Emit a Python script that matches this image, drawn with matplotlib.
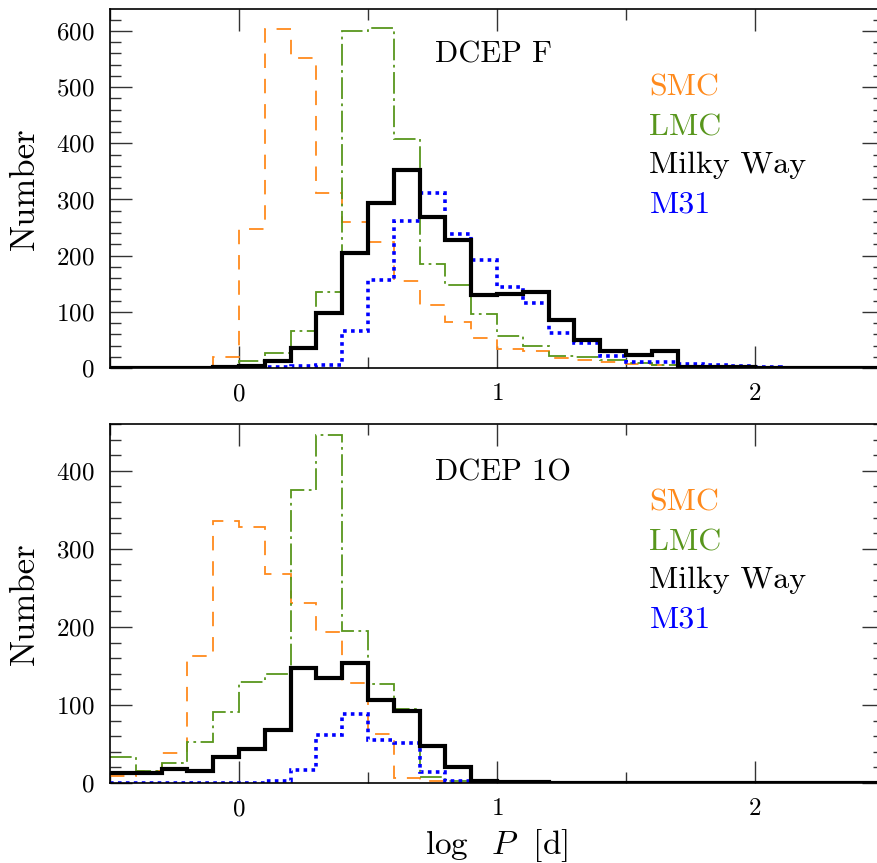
import numpy as np
import matplotlib
matplotlib.use("Agg")
import matplotlib.pyplot as plt
from matplotlib.ticker import MultipleLocator

plt.rcParams['font.family'] = ['cmr10', 'DejaVu Serif']
plt.rcParams['mathtext.fontset'] = 'cm'
plt.rcParams['axes.formatter.use_mathtext'] = True

# bin edges: log P from -0.5 to 2.5 in steps of 0.1
edges = np.round(np.arange(-0.5, 2.5001, 0.1), 2)

# ---- DCEP F (fundamental mode) counts per bin ----
smc_f = [0, 0, 0, 0, 20, 248, 603, 551, 311, 260, 225, 155, 112, 81, 53, 33, 30, 18,
         14, 11, 8, 5, 3, 2, 1, 1, 0, 0, 0, 0]
lmc_f = [0, 0, 0, 0, 3, 13, 26, 65, 136, 600, 606, 407, 186, 148, 96, 57, 39, 21,
         20, 15, 9, 5, 3, 2, 1, 0, 0, 0, 0, 0]
mw_f = [0, 0, 0, 0, 2, 4, 13, 36, 98, 204, 293, 352, 268, 227, 130, 131, 136, 85,
        50, 31, 23, 31, 2, 2, 1, 0, 0, 0, 0, 0]
m31_f = [0, 0, 0, 0, 0, 1, 2, 3, 5, 65, 157, 262, 311, 239, 193, 145, 116, 62,
         44, 21, 10, 10, 7, 5, 3, 1, 0, 0, 0, 0]

# ---- DCEP 1O (first overtone) counts per bin ----
smc_1o = [9, 15, 39, 163, 336, 328, 268, 231, 194, 128, 63, 7, 2, 0, 0, 0, 0, 0,
          0, 0, 0, 0, 0, 0, 0, 0, 0, 0, 0, 0]
lmc_1o = [33, 16, 26, 52, 91, 130, 140, 376, 446, 195, 127, 95, 8, 3, 0, 0, 0, 0,
          0, 0, 0, 0, 0, 0, 0, 0, 0, 0, 0, 0]
mw_1o = [13, 13, 18, 15, 33, 43, 68, 147, 134, 154, 106, 92, 48, 20, 2, 1, 1, 0,
         0, 0, 0, 0, 0, 0, 0, 0, 0, 0, 0, 0]
m31_1o = [0, 0, 0, 0, 0, 0, 3, 17, 62, 88, 55, 51, 14, 2, 0, 0, 0, 0,
          0, 0, 0, 0, 0, 0, 0, 0, 0, 0, 0, 0]

labels = ['SMC', 'LMC', 'Milky Way', 'M31']
titles = ['DCEP F', 'DCEP 1O']

c_smc = '#ff8a1c'
c_lmc = '#58961c'
c_mw = 'black'
c_m31 = '#0000ff'

styles = [
    dict(color=c_smc, lw=1.3, linestyle=(0, (8, 6))),
    dict(color=c_lmc, lw=1.3, linestyle=(0, (12, 2.5, 1.5, 2.5))),
    dict(color=c_mw, lw=3.0, linestyle='-'),
    dict(color=c_m31, lw=2.6, linestyle=(0, (1.0, 1.2))),
]

W, H = 877, 863
fig = plt.figure(figsize=(W / 100, H / 100), dpi=100)

ax_top = fig.add_axes([110 / W, (H - 368) / H, (884 - 110) / W, 359 / H])
ax_bot = fig.add_axes([110 / W, (H - 783) / H, (884 - 110) / W, 359 / H])

panels = [
    (ax_top, [smc_f, lmc_f, mw_f, m31_f], 639, titles[0], 0.852),
    (ax_bot, [smc_1o, lmc_1o, mw_1o, m31_1o], 460, titles[1], 0.844),
]

lab_y = [0.760, 0.649, 0.543, 0.434]

for ax, series, ymax, title, ty in panels:
    order = [0, 1, 3, 2]
    for i in order:
        counts = np.asarray(series[i], dtype=float)
        ax.stairs(counts, edges, baseline=None, zorder=3 if i == 2 else 2, **styles[i])
    ax.set_xlim(-0.5, 2.5)
    ax.set_ylim(0, ymax)
    ax.xaxis.set_major_locator(MultipleLocator(1))
    ax.xaxis.set_minor_locator(MultipleLocator(0.5))
    ax.yaxis.set_major_locator(MultipleLocator(100))
    ax.yaxis.set_minor_locator(MultipleLocator(20))
    ax.tick_params(which='both', direction='in', top=True, right=True,
                   labelsize=18, width=1.0, color='#333333')
    ax.tick_params(which='major', length=16)
    ax.tick_params(which='minor', length=8)
    ax.tick_params(axis='x', which='major', pad=11)
    ax.tick_params(axis='y', which='major', pad=11)
    for sp in ax.spines.values():
        sp.set_linewidth(1.2)
    ax.text(0.42, ty, title, transform=ax.transAxes,
            fontsize=22, ha='left', va='baseline')
    for lab, col, yy in zip(labels, [c_smc, c_lmc, c_mw, c_m31], lab_y):
        ax.text(0.697, yy, lab, transform=ax.transAxes, fontsize=23,
                color=col, ha='left', va='baseline')

# y labels
for ax in (ax_top, ax_bot):
    pos = ax.get_position()
    fig.text(25 / W, pos.y0 + pos.height / 2, 'Number', rotation=90,
             fontsize=25, ha='center', va='center')

# x label
fig.text(496 / W, 1 - 846 / H, r'$\log\ \ P\ \ [\mathrm{d}]$', fontsize=24,
         ha='center', va='center')

fig.savefig('out.png', dpi=100)
